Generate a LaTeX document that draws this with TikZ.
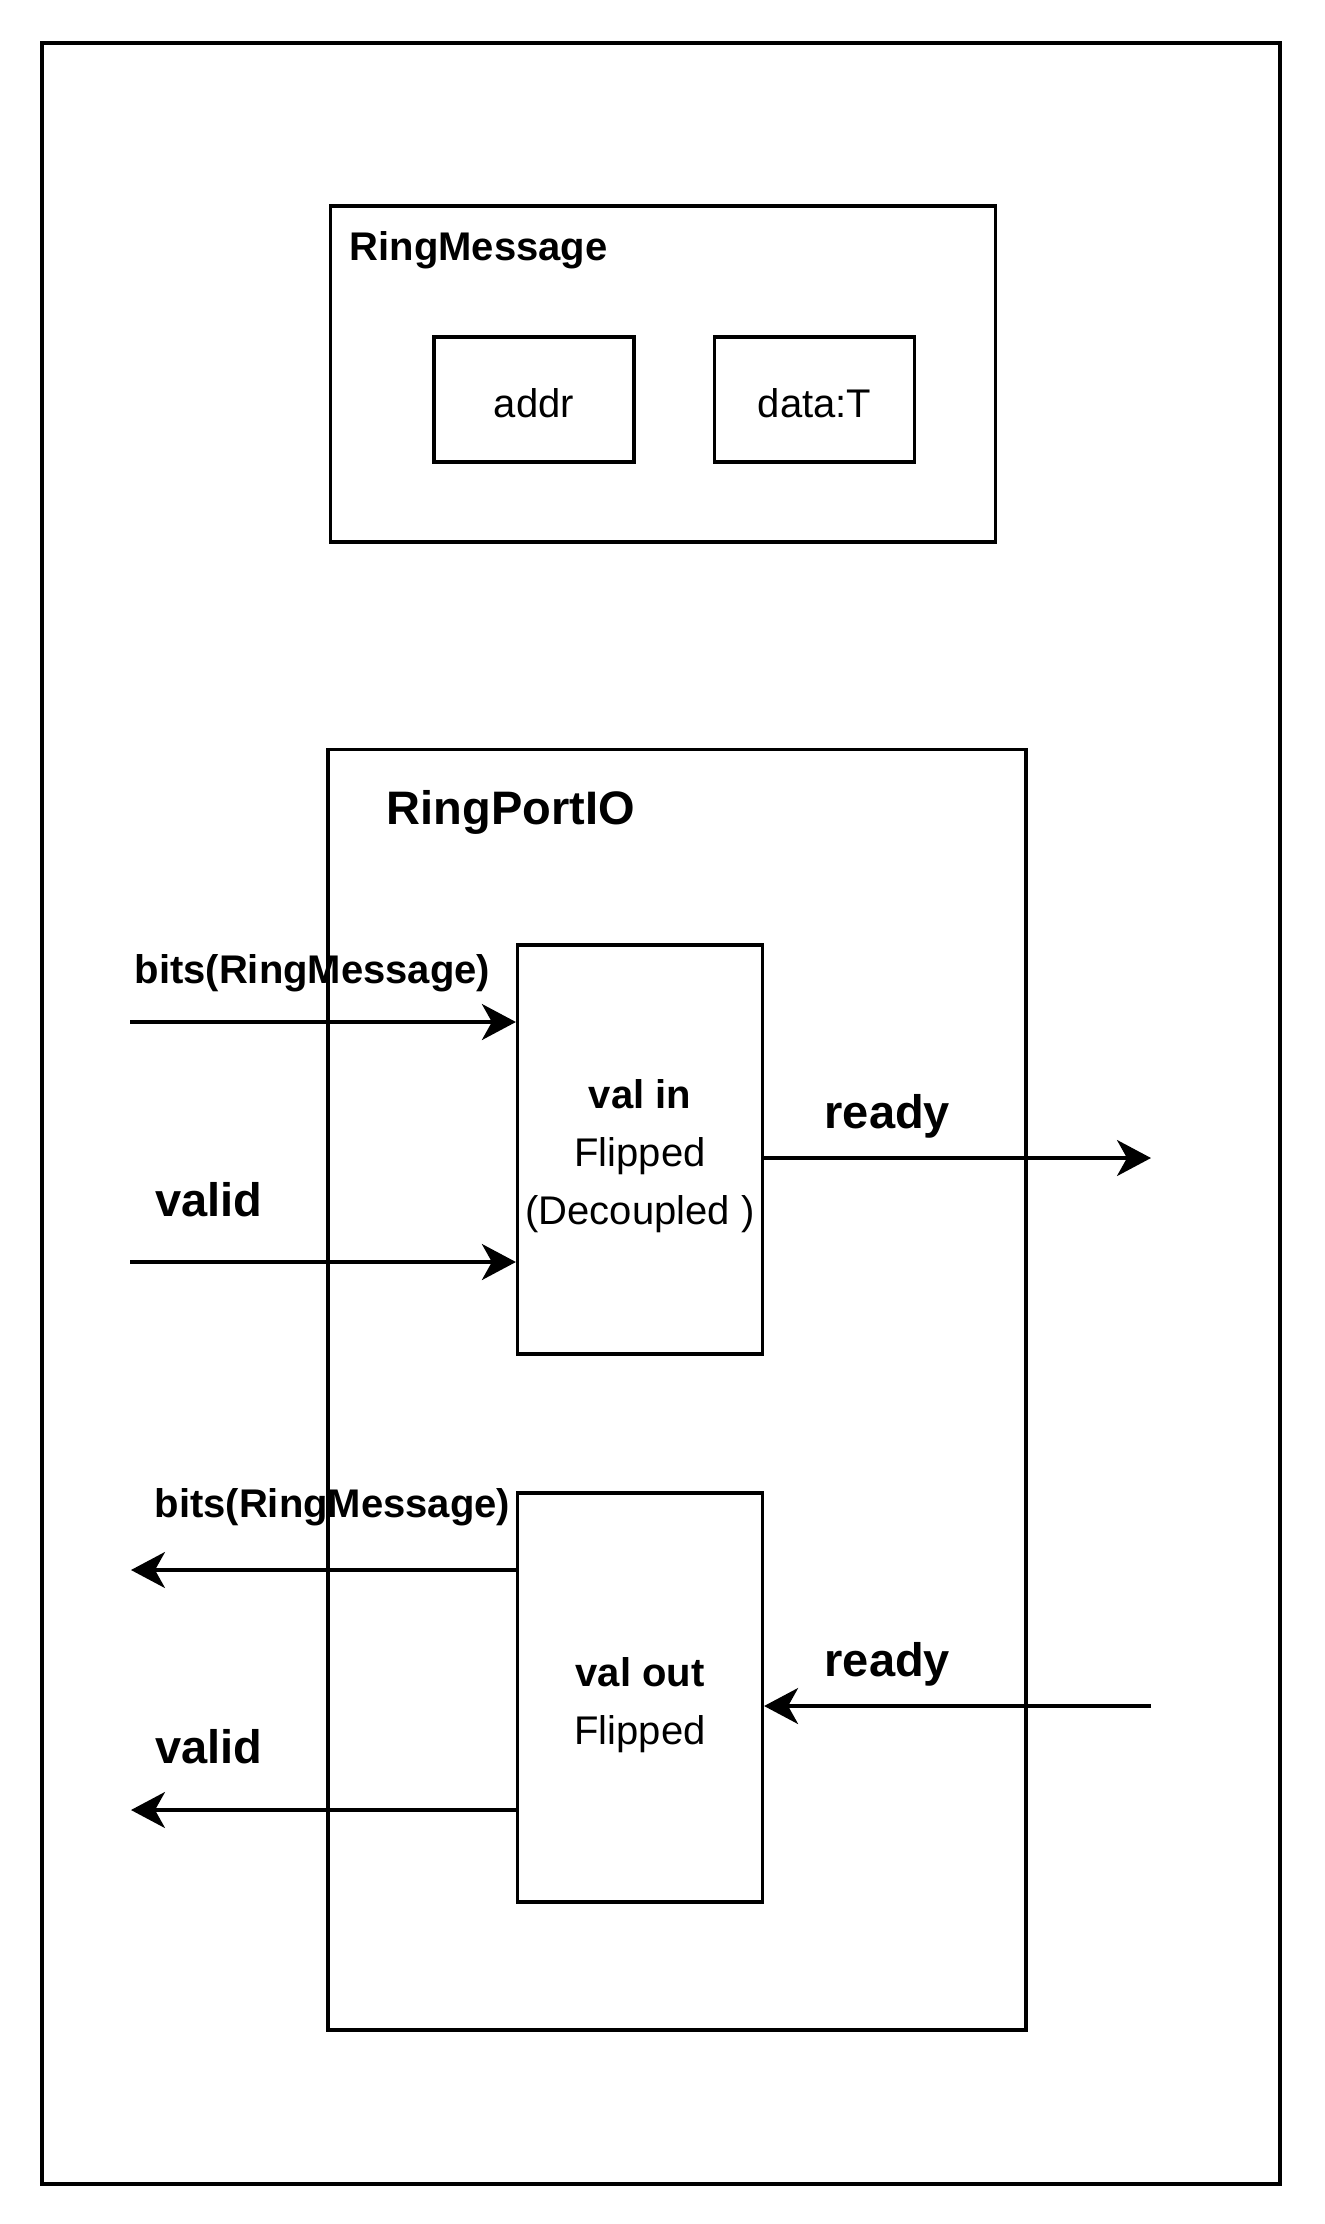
\documentclass[tikz,border=0pt]{standalone}
\usepackage{fontspec}
\setmainfont{Liberation Sans}
\usetikzlibrary{arrows.meta}

\begin{document}
\begin{tikzpicture}[x=0.5pt,y=-0.5pt,line width=1.6pt,
        box/.style={draw, rectangle, inner sep=0pt},
        txt/.style={inner sep=0pt, align=center, font=\fontsize{20}{29}\selectfont},
        lbl/.style={anchor=base west, inner sep=0pt, font=\fontsize{20}{24}\selectfont\bfseries},
        biglbl/.style={anchor=base west, inner sep=0pt, font=\fontsize{23.5}{28}\selectfont\bfseries},
        arr/.style={-{Stealth[length=17pt,width=18pt,inset=5pt]}}]
        \useasboundingbox (0,0) rectangle (1324,2224);
        \node[box, minimum width=619pt, minimum height=1070.5pt] (frame) at (661,1113.5) {};
        \node[box, minimum width=332.5pt, minimum height=168pt] (msg) at (663,374) {};
        \node[lbl] (msgname) at (348,260) {RingMessage};
        \node[box, minimum width=100pt, minimum height=62.5pt] (addr) at (534,399.5) {};
        \node[box, minimum width=100pt, minimum height=62.5pt] (data) at (814.5,399.5) {};
        \node[txt] (addrtext) at ([yshift=-2pt]addr.center) {addr};
        \node[txt] (datatext) at ([yshift=-2pt]data.center) {data:T};
        \node[box, minimum width=349pt, minimum height=640.25pt] (port) at (677,1389.75) {};
        \node[biglbl] (portname) at (385,824) {RingPortIO};
        \node[box, minimum width=122.5pt, minimum height=204.5pt] (valin) at (640,1149.5) {};
        \node[box, minimum width=122.5pt, minimum height=204.5pt] (valout) at (640,1697.5) {};
        \node[txt] (valintext) at ([yshift=-3.5pt]valin.center) {\textbf{val in}\\Flipped\\(Decoupled )};
        \node[txt] (valouttext) at ([yshift=-4pt]valout.center) {\textbf{val out}\\Flipped};
        \coordinate (bitsin) at (130,1022);
        \coordinate (validin) at (130,1262);
        \coordinate (readyout) at (1151,1158);
        \coordinate (bitsout) at (131,1570);
        \coordinate (validout) at (131,1810);
        \coordinate (readyin) at (1151,1706);
        \draw[arr] (bitsin) -- (bitsin -| valin.west);
        \draw[arr] (validin) -- (validin -| valin.west);
        \draw[arr] (valin.east |- readyout) -- (readyout);
        \draw[arr] (valout.west |- bitsout) -- (bitsout);
        \draw[arr] (valout.west |- validout) -- (validout);
        \draw[arr] (readyin) -- (readyin -| valout.east);
        \node[lbl] (bitsinname) at (133,983) {bits(RingMessage)};
        \node[biglbl] (validinname) at (154,1216) {valid};
        \node[biglbl] (readyoutname) at (823,1128) {ready};
        \node[lbl] (bitsoutname) at (153,1517) {bits(RingMessage)};
        \node[biglbl] (readyinname) at (823,1676) {ready};
        \node[biglbl] (validoutname) at (154,1763) {valid};
\end{tikzpicture}
\end{document}
